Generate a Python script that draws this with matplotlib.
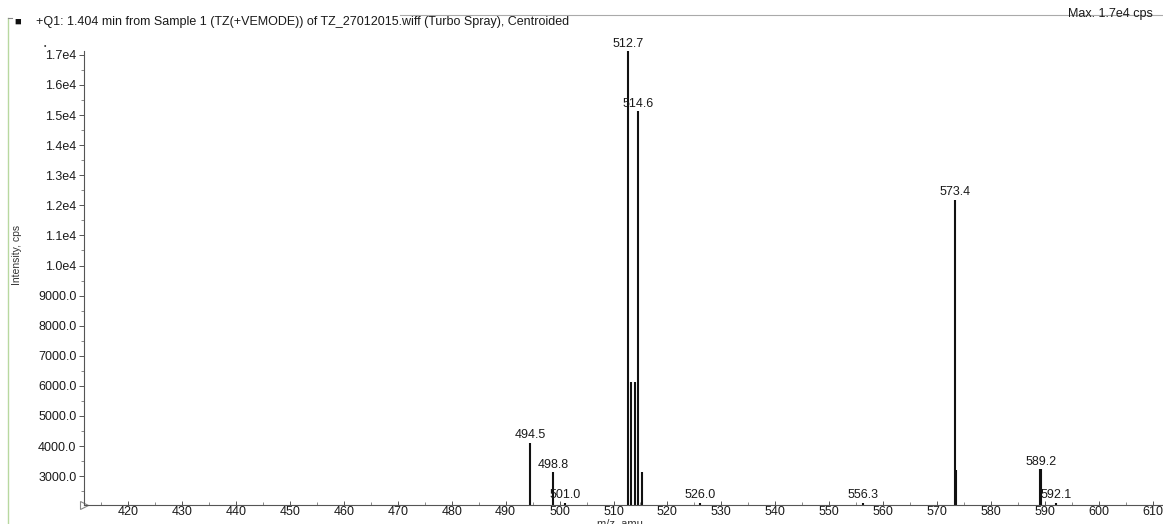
import matplotlib
matplotlib.use("Agg")
import matplotlib.pyplot as plt
from matplotlib.lines import Line2D
from matplotlib.ticker import MultipleLocator, FuncFormatter

plt.rcParams['font.family'] = ['Liberation Sans', 'DejaVu Sans']

# labelled centroid peaks (m/z, intensity in cps)
peak_mz = [494.5, 498.8, 501.0, 512.7, 514.6, 526.0, 556.3, 573.4, 589.2, 592.1]
peak_int = [4110, 3130, 2110, 17120, 15120, 2110, 2110, 12180, 3230, 2110]

# unlabelled sticks sitting next to the main peaks
side_mz = [513.3, 514.0, 515.2, 573.6, 589.0]
side_int = [6140, 6140, 3150, 3200, 3230]

title = "+Q1: 1.404 min from Sample 1 (TZ(+VEMODE)) of TZ_27012015.wiff (Turbo Spray), Centroided"
max_text = "Max. 1.7e4 cps"

W, H = 1163, 524
fig = plt.figure(figsize=(W / 100, H / 100), dpi=100)
fig.patch.set_facecolor("white")

ax = fig.add_axes([84 / W, 1 - 505 / H, 1079 / W, 454 / H])
ax.set_xlim(411.8, 611.9)
ax.set_ylim(2040, 17130)

ax.vlines(peak_mz, 2040, peak_int, colors="#111111", lw=1.5)
ax.vlines(side_mz, 2040, side_int, colors="#111111", lw=1.5)

for mz, h in zip(peak_mz, peak_int):
    ax.annotate(f"{mz:.1f}", (mz, h), xytext=(0, 1.2), textcoords="offset points",
                ha="center", va="bottom", fontsize=9, color="#1a1a1a")

for s in ("top", "right"):
    ax.spines[s].set_visible(False)
ax.spines["left"].set_color("#555555")
ax.spines["bottom"].set_color("#555555")
ax.spines["left"].set_linewidth(0.8)
ax.spines["bottom"].set_linewidth(0.8)

ax.xaxis.set_major_locator(MultipleLocator(10))
ax.xaxis.set_minor_locator(MultipleLocator(5))
ax.yaxis.set_major_locator(MultipleLocator(1000))
ax.yaxis.set_minor_locator(MultipleLocator(500))
ax.set_xticks([v for v in range(420, 611, 10)])
ax.set_yticks([v for v in range(3000, 17001, 1000)])


def yfmt(v, pos):
    if v >= 10000:
        return f"{v / 1e4:.1f}e4"
    return f"{v:.1f}"


ax.yaxis.set_major_formatter(FuncFormatter(yfmt))
ax.tick_params(axis="y", which="major", direction="out", length=3.5, width=0.7,
               colors="#555555", labelcolor="#1a1a1a", labelsize=9, pad=2)
ax.tick_params(axis="y", which="minor", direction="out", length=2, width=0.6, colors="#777777")
ax.tick_params(axis="x", which="major", direction="in", length=3, width=0.7,
               colors="#555555", labelcolor="#1a1a1a", labelsize=9, pad=1)
ax.tick_params(axis="x", which="minor", direction="in", length=2, width=0.6, colors="#777777")

ax.set_ylabel("Intensity, cps", fontsize=7.5, color="#333333", labelpad=0)
ax.yaxis.set_label_coords(-62 / 1079, 0.55)
ax.set_xlabel("m/z, amu", fontsize=8, color="#333333")
ax.xaxis.set_label_coords(536 / 1079, -13 / 454)
ax.xaxis.label.set_va("top")

# start-of-axis marker
ax.plot([411.8], [2040], marker=">", ms=6, mfc="white", mec="#888888", mew=0.8,
        clip_on=False, transform=ax.transData)
ax.annotate("•", (0, 1.0), xycoords="axes fraction", xytext=(-28, 2),
            textcoords="offset points", fontsize=5, ha="center", color="#333333")

# header
fig.text(18 / W, 1 - 22 / H, "■", fontsize=8, va="center", ha="center", color="#111111")
fig.text(36 / W, 1 - 22 / H, title, fontsize=9, va="center", ha="left", color="#1a1a1a")
fig.text(1068 / W, 1 - 14 / H, max_text, fontsize=9, va="center", ha="left",
         color="#1a1a1a")
fig.add_artist(Line2D([400 / W, 1.0], [1 - 15 / H, 1 - 15 / H], color="#aaaaaa", lw=0.8))
fig.add_artist(Line2D([8 / W, 8 / W], [0, 1 - 18 / H], color="#b8d8a0", lw=1.0))
fig.add_artist(Line2D([8 / W, 12 / W], [1 - 18 / H, 1 - 18 / H], color="#888888", lw=0.8))

fig.savefig("out.png", dpi=100, facecolor="white")
